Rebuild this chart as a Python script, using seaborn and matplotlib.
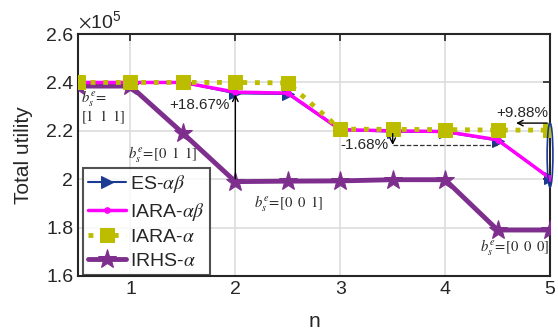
import matplotlib
matplotlib.use("Agg")
import matplotlib.pyplot as plt
import matplotlib.ticker as mticker
import seaborn as sns
from matplotlib.patches import Ellipse

n_values = [0.5, 1, 1.5, 2, 2.5, 3, 3.5, 4, 4.5, 5]
es_ab = [2.40e5, 2.40e5, 2.40e5, 2.355e5, 2.352e5, 2.203e5, 2.197e5, 2.195e5, 2.160e5, 2.004e5]
iara_ab = [2.40e5, 2.40e5, 2.40e5, 2.360e5, 2.356e5, 2.205e5, 2.200e5, 2.197e5, 2.163e5, 2.004e5]
iara_a = [2.40e5, 2.40e5, 2.40e5, 2.40e5, 2.398e5, 2.207e5, 2.206e5, 2.205e5, 2.203e5, 2.203e5]
irhs_a = [2.385e5, 2.385e5, 2.19e5, 1.99e5, 1.992e5, 1.993e5, 1.998e5, 1.998e5, 1.79e5, 1.79e5]
series_labels = [r'ES-$\alpha\beta$', r'IARA-$\alpha\beta$', r'IARA-$\alpha$', r'IRHS-$\alpha$']
x_ticks = [1, 2, 3, 4, 5]
y_ticks = [1.6e5, 1.8e5, 2.0e5, 2.2e5, 2.4e5, 2.6e5]

sns.set_style("white")
plt.rcParams['font.family'] = ['Liberation Sans', 'DejaVu Sans']
plt.rcParams['mathtext.fontset'] = 'stix'

fig = plt.figure(figsize=(5.58, 3.34), dpi=100)
ax = fig.add_axes([0.1398, 0.1737, 0.8459, 0.7243])

c_blue = '#1B3A93'
c_mag = '#FF00FF'
c_yel = '#BDBD00'
c_pur = '#7E2F8E'

sns.lineplot(x=n_values, y=es_ab, ax=ax, color=c_blue, lw=1.5, marker='>', ms=9,
             mec=c_blue, mfc=c_blue, label=series_labels[0], zorder=3)
sns.lineplot(x=n_values, y=iara_ab, ax=ax, color=c_mag, lw=2.5, marker='.', ms=8,
             mec=c_mag, mfc=c_mag, label=series_labels[1], zorder=4)
sns.lineplot(x=n_values, y=iara_a, ax=ax, color=c_yel, lw=3.5, ls=(0, (1, 1.6)), marker='s', ms=10,
             mec=c_yel, mfc=c_yel, label=series_labels[2], zorder=5)
sns.lineplot(x=n_values, y=irhs_a, ax=ax, color=c_pur, lw=3.5, marker='*', ms=14,
             mec=c_pur, mfc=c_pur, label=series_labels[3], zorder=3)

ax.set_xlim(0.5, 5)
ax.set_ylim(1.6e5, 2.6e5)
ax.set_xticks(x_ticks)
ax.set_yticks(y_ticks)
ax.yaxis.set_major_formatter(mticker.FuncFormatter(lambda v, p: f'{v/1e5:g}'))
ax.text(0.0, 1.01, r'$\times\mathregular{10^5}$', transform=ax.transAxes, fontsize=14,
        ha='left', va='bottom', color='#262626')
ax.grid(True, color='#DDDDDD', lw=1.2)
ax.tick_params(direction='in', length=5, width=1.2, labelsize=14, top=True, right=True,
               colors='#262626')
for s in ax.spines.values():
    s.set_linewidth(1.5)
    s.set_color('#262626')
ax.set_xlabel('n', fontsize=15, color='#262626', labelpad=10)
ax.set_ylabel('Total utility', fontsize=15, color='#262626', labelpad=9)

leg = ax.legend(loc='upper left', bbox_to_anchor=(0.01, 0.446), borderaxespad=0,
                fontsize=14, frameon=True, fancybox=False, edgecolor='#262626',
                handlelength=2.0, handletextpad=0.2, borderpad=0.25, labelspacing=0.3)
leg.get_frame().set_linewidth(1.5)

# annotations
ax.annotate('', xy=(2, 2.362e5), xytext=(2, 1.99e5),
            arrowprops=dict(arrowstyle='->', color='black', lw=1.0), zorder=6)
ax.text(1.66, 2.307e5, '+18.67%', fontsize=11, ha='center', va='center', zorder=7)

ax.plot([3.5, 4.5], [2.142e5, 2.142e5], ls='--', color='#333333', lw=0.9, zorder=6)
ax.annotate('', xy=(3.5, 2.13e5), xytext=(3.5, 2.2e5),
            arrowprops=dict(arrowstyle='->', color='black', lw=1.0), zorder=6)
ax.text(3.23, 2.141e5, '-1.68%', fontsize=11, ha='center', va='center', zorder=7)

ax.annotate('', xy=(4.65, 2.232e5), xytext=(5.0, 2.232e5),
            arrowprops=dict(arrowstyle='->', color='black', lw=1.0), zorder=6)
ax.text(4.74, 2.272e5, '+9.88%', fontsize=11, ha='center', va='center', zorder=7)

ell = Ellipse((5.0, 2.1e5), width=0.055, height=0.265e5, fill=False, edgecolor=c_blue,
              lw=1.2, zorder=8, clip_on=False)
ax.add_patch(ell)

fs = 10.5
ax.text(0.53, 2.33e5, r'$b_s^e\!=$', fontsize=fs, ha='left', va='center', zorder=7)
ax.text(0.53, 2.255e5, r'$[1\;\;1\;\;1]$', fontsize=fs, ha='left', va='center', zorder=7)
ax.text(1.31, 2.10e5, r'$b_s^e\!=\![0\;\;1\;\;1]$', fontsize=fs, ha='center', va='center', zorder=7)
ax.text(2.51, 1.90e5, r'$b_s^e\!=\![0\;\;0\;\;1]$', fontsize=fs, ha='center', va='center', zorder=7)
ax.text(4.66, 1.716e5, r'$b_s^e\!=\![0\;\;0\;\;0]$', fontsize=fs, ha='center', va='center', zorder=7)

fig.savefig('out.png', dpi=100)
